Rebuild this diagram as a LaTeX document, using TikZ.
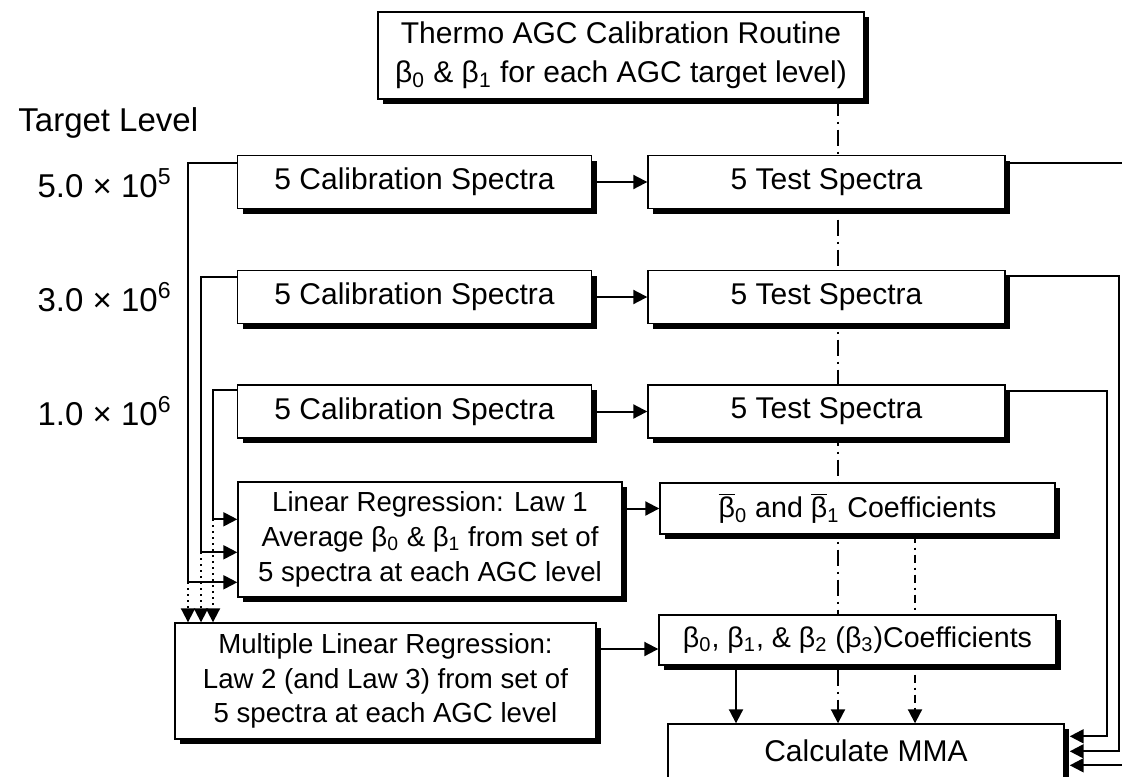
\documentclass[tikz,border=0pt]{standalone}
\usepackage{fontspec}
\setmainfont{Liberation Sans}
\usetikzlibrary{arrows.meta,calc,shadows}
\newlength{\rowheight}
\newlength{\calwidth}
\newlength{\testwidth}
\newlength{\shadowshift}
\setlength{\rowheight}{26.5pt}
\setlength{\calwidth}{177pt}
\setlength{\testwidth}{178.5pt}
\setlength{\shadowshift}{2.5pt}
\definecolor{background}{RGB}{255, 255, 255}
\definecolor{mainline}{HTML}{000000}
\newcommand{\boxfont}{\fontsize{15}{17.5}\selectfont}
\newcommand{\headfont}{\fontsize{15}{19.5}\selectfont}
\newcommand{\regfont}{\fontsize{13.8}{17.4}\selectfont}
\newcommand{\coeffont}{\fontsize{14.3}{17}\selectfont}
\newcommand{\levelfont}{\fontsize{16.5}{20}\selectfont}
\newcommand{\bbar}{$\overline{\mbox{β}}$}

\pgfdeclarelayer{back}
\pgfsetlayers{back,main}

\tikzset{
  stepbox/.style={draw=mainline, line width=0.7pt, fill=background, inner sep=2pt,
    align=center, font=\boxfont,
    drop shadow={shadow xshift=\shadowshift, shadow yshift=-\shadowshift, fill=mainline, opacity=1}},
  link/.style={draw=mainline, line width=1pt},
  linkarrow/.style={link, -{Triangle[length=7pt,width=7pt]}},
  dotarrow/.style={linkarrow, dotted},
  tapline/.style={linkarrow, dash pattern=on 8pt off 3pt on 1pt off 3pt},
  shorttap/.style={linkarrow, dash pattern=on 4pt off 2.5pt on 1pt off 2.5pt},
  levellabel/.style={font=\levelfont, anchor=east, inner sep=0pt}
}

\begin{document}
\begin{tikzpicture}[x=0.5pt, y=-0.5pt]
  % Page
  \useasboundingbox (0,0) rectangle (1122,776);
  \clip (0,0) rectangle (1122,776);
  \begin{pgfonlayer}{back}
    \fill[background] (0,0) rectangle (1122,776);
  \end{pgfonlayer}

  % Calibration routine
  \node[stepbox, font=\headfont, minimum width=243pt, minimum height=43.5pt] (thermo) at (621,55.5)
    {Thermo AGC Calibration Routine\\β\textsubscript{0} \& β\textsubscript{1} for each AGC target level)};

  % Target levels
  \node[font=\levelfont, anchor=west, inner sep=0pt] (target) at (18,123) {Target Level};
  \node[levellabel] (level1) at (172,183) {5.0 × 10\textsuperscript{5}};
  \node[levellabel] (level2) at (172,297) {3.0 × 10\textsuperscript{6}};
  \node[levellabel] (level3) at (172,411) {1.0 × 10\textsuperscript{6}};

  % Spectra for each level
  \node[stepbox, minimum width=\calwidth, minimum height=\rowheight] (cal1) at (414.5,182) {5 Calibration Spectra};
  \node[stepbox, minimum width=\testwidth, minimum height=\rowheight] (test1) at (826.5,182) {5 Test Spectra};
  \node[stepbox, minimum width=\calwidth, minimum height=\rowheight] (cal2) at (414.5,297) {5 Calibration Spectra};
  \node[stepbox, minimum width=\testwidth, minimum height=\rowheight] (test2) at (826.5,297) {5 Test Spectra};
  \node[stepbox, minimum width=\calwidth, minimum height=\rowheight] (cal3) at (414.5,411.5) {5 Calibration Spectra};
  \node[stepbox, minimum width=\testwidth, minimum height=\rowheight] (test3) at (826.5,411.5) {5 Test Spectra};

  % Regressions and coefficients
  \node[stepbox, font=\regfont, minimum width=192pt, minimum height=57.5pt] (linreg) at (430,539.5)
    {Linear Regression: Law 1\\Average β\textsubscript{0} \& β\textsubscript{1} from set of\\5 spectra at each AGC level};
  \node[stepbox, font=\coeffont, minimum width=197.5pt, minimum height=25.5pt] (avgcoef) at (857.5,508.5)
    {\bbar\textsubscript{0} and \bbar\textsubscript{1} Coefficients};
  \node[stepbox, font=\regfont, minimum width=210.5pt, minimum height=58pt] (multreg) at (385.5,681)
    {Multiple Linear Regression:\\Law 2 (and Law 3) from set of\\5 spectra at each AGC level};
  \node[stepbox, font=\coeffont, minimum width=198.5pt, minimum height=25pt] (coef) at (857.5,640)
    {β\textsubscript{0}, β\textsubscript{1}, \& β\textsubscript{2} (β\textsubscript{3})Coefficients};
  \node[stepbox, minimum width=198pt, minimum height=27pt] (mma) at (866,751) {Calculate MMA};

  % Columns for the vertical runs
  \coordinate (drop1) at (188,0);
  \coordinate (drop2) at (201,0);
  \coordinate (drop3) at (213,0);
  \coordinate (rail1) at (1140,0);
  \coordinate (rail2) at (1119,0);
  \coordinate (rail3) at (1107,0);
  \coordinate (tapx) at (838,0);
  \coordinate (tapy) at (915,0);
  \coordinate (solx) at (736,0);

  % Calibration to test spectra
  \draw[linkarrow] (cal1) -- (test1);
  \draw[linkarrow] (cal2) -- (test2);
  \draw[linkarrow] (cal3) -- (test3);

  % Calibration spectra into the regressions
  \coordinate (out1) at ($(cal1.north west)+(0,8)$);
  \coordinate (out2) at ($(cal2.north west)+(0,7)$);
  \coordinate (out3) at ($(cal3.north west)+(0,6)$);
  \coordinate (in1) at ($(linreg.north west)+(0,101)$);
  \coordinate (in2) at ($(linreg.north west)+(0,71)$);
  \coordinate (in3) at ($(linreg.north west)+(0,38)$);
  \draw[linkarrow] (out1) -| (drop1 |- in1) -- (in1);
  \draw[linkarrow] (out2) -| (drop2 |- in2) -- (in2);
  \draw[linkarrow] (out3) -| (drop3 |- in3) -- (in3);
  \draw[dotarrow] (drop1 |- in1) -- (drop1 |- multreg.north);
  \draw[dotarrow] (drop2 |- in2) -- (drop2 |- multreg.north);
  \draw[dotarrow] (drop3 |- in3) -- (drop3 |- multreg.north);

  % Regressions to coefficients
  \draw[linkarrow] (linreg.east |- avgcoef) -- (avgcoef.west);
  \draw[linkarrow] ($(multreg.east |- coef)+(0,9)$) -- ($(coef.west)+(0,9)$);
  \draw[linkarrow] (coef.south -| solx) -- (mma.north -| solx);

  % Test spectra into MMA
  \coordinate (mmain1) at ($(mma.north east)+(5,42)$);
  \coordinate (mmain2) at ($(mma.north east)+(5,28)$);
  \coordinate (mmain3) at ($(mma.north east)+(5,13)$);
  \draw[linkarrow] ($(test1.north east)+(0,8)$) -| (rail1 |- mmain1) -- (mmain1);
  \draw[linkarrow] ($(test2.north east)+(0,6)$) -| (rail2 |- mmain2) -- (mmain2);
  \draw[linkarrow] ($(test3.north east)+(0,7)$) -| (rail3 |- mmain3) -- (mmain3);

  % Dash-dot runs behind the boxes
  \begin{pgfonlayer}{back}
    \draw[tapline] (thermo.south -| tapx) -- (mma.north -| tapx);
    \draw[shorttap] (avgcoef.south -| tapy) -- (mma.north -| tapy);
  \end{pgfonlayer}
\end{tikzpicture}
\end{document}
